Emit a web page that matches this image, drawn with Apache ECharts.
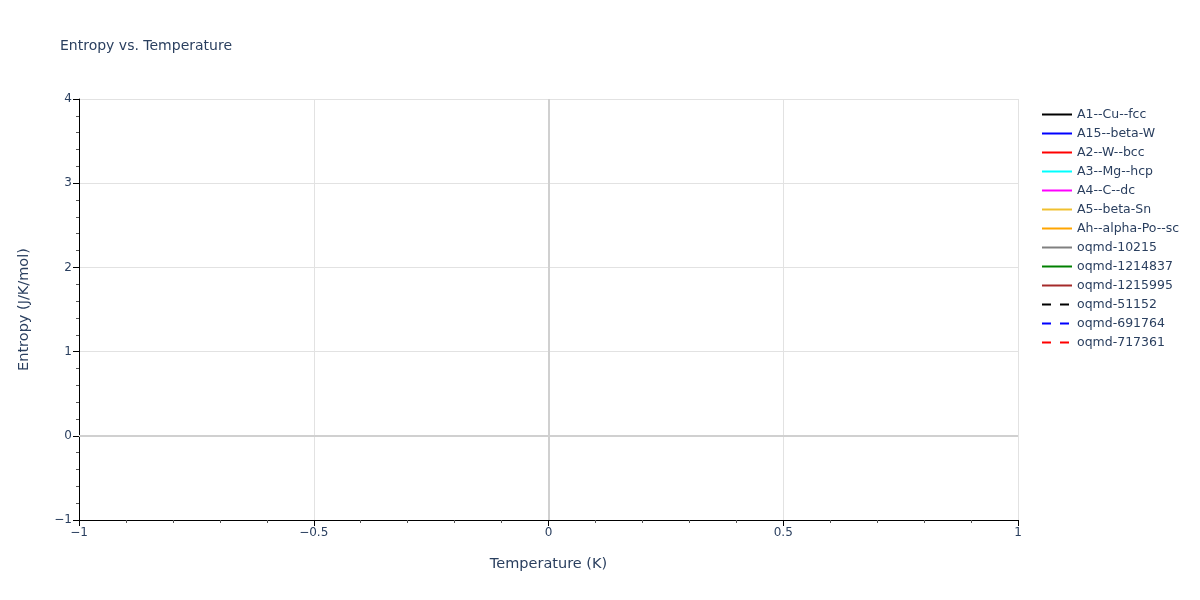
<!DOCTYPE html>
<html>
<head>
<meta charset="utf-8">
<script src="https://cdn.jsdelivr.net/npm/echarts@6/dist/echarts.min.js"></script>
<style>html,body{margin:0;padding:0;background:#fff;}#c{width:1200px;height:600px;}</style>
</head>
<body>
<div id="c"></div>
<script>
// Series (all empty in the reference: no data points drawn)
const seriesNames = ['A1--Cu--fcc','A15--beta-W','A2--W--bcc','A3--Mg--hcp','A4--C--dc','A5--beta-Sn','Ah--alpha-Po--sc','oqmd-10215','oqmd-1214837','oqmd-1215995','oqmd-51152','oqmd-691764','oqmd-717361'];
const seriesColors = ['#000000','#0000ff','#ff0000','#00ffff','#ff00ff','#f0c030','#ffa500','#808080','#008000','#a52a2a','#000000','#0000ff','#ff0000'];
const seriesDash = ['solid','solid','solid','solid','solid','solid','solid','solid','solid','solid',[9,9],[9,9],[9,9]];
const seriesData = [[],[],[],[],[],[],[],[],[],[],[],[],[]]; // [temperature, entropy] pairs
const xTicks = {min:-1, max:1, interval:0.5};
const yTicks = {min:-1, max:4, interval:1};

const txt = '#2a3f5f';
const font = '"DejaVu Sans", Verdana, sans-serif';
const fmt = v => (v < 0 ? '\u2212' + Math.abs(v) : String(v));

const series = seriesNames.map((n, i) => ({
  name: n, type: 'line', data: seriesData[i], symbol: 'none', symbolSize: 0, showSymbol: false,
  lineStyle: {color: seriesColors[i], width: 2, type: seriesDash[i]},
  itemStyle: {color: seriesColors[i]}
}));
series[0].markLine = {
  silent: true, symbol: 'none', label: {show: false},
  lineStyle: {color: '#d0d0d0', width: 2, type: 'solid'},
  data: [{xAxis: 0}, {yAxis: 0}]
};

const chart = echarts.init(document.getElementById('c'));
chart.setOption({
  animation: false,
  backgroundColor: '#fff',
  textStyle: {fontFamily: font},
  title: {text: 'Entropy vs. Temperature', left: 55, top: 34,
    textStyle: {fontFamily: font, fontSize: 14, fontWeight: 'normal', color: txt}},
  grid: {left: 79, right: 182, top: 99, bottom: 80},
  legend: {
    orient: 'vertical', left: 1036, top: 103, itemWidth: 30, itemHeight: 4, itemGap: 6,
    itemStyle: {opacity: 0},
    textStyle: {fontFamily: font, fontSize: 12.5, color: txt},
    data: seriesNames
  },
  xAxis: {
    type: 'value', min: xTicks.min, max: xTicks.max, interval: xTicks.interval,
    name: 'Temperature (K)', nameLocation: 'middle', nameGap: 37,
    nameTextStyle: {fontFamily: font, fontSize: 14.5, color: txt},
    axisLine: {show: true, onZero: false, lineStyle: {color: '#000', width: 1}},
    axisTick: {show: true, length: 6, lineStyle: {color: '#000'}},
    minorTick: {show: true, splitNumber: 5, length: 3, lineStyle: {color: '#555'}},
    axisLabel: {fontFamily: font, fontSize: 12, color: txt, margin: 7, formatter: fmt},
    splitLine: {show: true, lineStyle: {color: '#e2e2e2', width: 1}}
  },
  yAxis: {
    type: 'value', min: yTicks.min, max: yTicks.max, interval: yTicks.interval,
    name: 'Entropy (J/K/mol)', nameLocation: 'middle', nameGap: 47,
    nameTextStyle: {fontFamily: font, fontSize: 14.5, color: txt},
    axisLine: {show: true, onZero: false, lineStyle: {color: '#000', width: 1}},
    axisTick: {show: true, length: 6, lineStyle: {color: '#000'}},
    minorTick: {show: true, splitNumber: 5, length: 3, lineStyle: {color: '#555'}},
    axisLabel: {fontFamily: font, fontSize: 12, color: txt, margin: 7, formatter: fmt},
    splitLine: {show: true, lineStyle: {color: '#e2e2e2', width: 1}}
  },
  series: series
});
</script>
</body>
</html>
